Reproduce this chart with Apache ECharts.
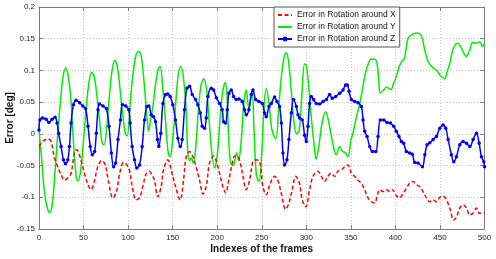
<!DOCTYPE html>
<html>
<head>
<meta charset="utf-8">
<script src="https://cdn.jsdelivr.net/npm/echarts@6/dist/echarts.min.js"></script>
<style>
html,body{margin:0;padding:0;background:#fff;}
#chart{width:496px;height:259px;}
</style>
</head>
<body>
<div id="chart"></div>
<script>
// Data: [frame index, error in deg]
const seriesNames = ['Error in Rotation around X', 'Error in Rotation around Y', 'Error in Rotation around Z'];
const xTicks = [0, 50, 100, 150, 200, 250, 300, 350, 400, 450, 500];
const yTicks = [-0.15, -0.1, -0.05, 0, 0.05, 0.1, 0.15, 0.2];

const rotX = [[0,-0.02],[4,-0.012],[10,-0.008],[13.5,-0.012],[17,-0.036],[21,-0.052],[25,-0.065],[28.6,-0.073],[32,-0.07],[36,-0.062],[40,-0.028],[42.5,-0.025],[46,-0.036],[51,-0.062],[55,-0.08],[58.6,-0.088],[62.4,-0.073],[66,-0.052],[70.7,-0.042],[74.4,-0.049],[78,-0.075],[83,-0.101],[87,-0.091],[90.6,-0.062],[95,-0.045],[98,-0.048],[101.5,-0.057],[105.3,-0.088],[109,-0.104],[112.8,-0.101],[116.5,-0.083],[120.3,-0.063],[124,-0.059],[127,-0.065],[129.6,-0.073],[133.4,-0.099],[137.1,-0.083],[139.7,-0.057],[144.6,-0.041],[148.4,-0.057],[153.2,-0.083],[158.5,-0.104],[162.2,-0.073],[165.2,-0.036],[169,-0.028],[172.7,-0.036],[176.4,-0.052],[181,-0.078],[184,-0.095],[187.7,-0.083],[191.4,-0.046],[196,-0.035],[199.5,-0.045],[202.6,-0.062],[206.4,-0.083],[209.4,-0.093],[213,-0.073],[217,-0.046],[219.5,-0.035],[223.2,-0.036],[226,-0.046],[229,-0.067],[232.6,-0.088],[236.4,-0.073],[240,-0.044],[243,-0.041],[247.6,-0.044],[251.3,-0.083],[255,-0.096],[259.6,-0.078],[264.4,-0.067],[268,-0.073],[272,-0.094],[276.8,-0.119],[280.5,-0.109],[285,-0.083],[288,-0.067],[291.8,-0.075],[295.5,-0.104],[299.5,-0.115],[303.7,-0.088],[307.5,-0.067],[313,-0.059],[317,-0.067],[320.6,-0.075],[324.3,-0.067],[328,-0.062],[331.8,-0.067],[335.6,-0.059],[339.3,-0.057],[343,-0.052],[346.8,-0.049],[350.6,-0.062],[354.3,-0.067],[358,-0.073],[361.8,-0.078],[365.5,-0.088],[369.3,-0.101],[373,-0.107],[376.8,-0.109],[379.4,-0.099],[382.4,-0.088],[386,-0.091],[390,-0.088],[393.6,-0.091],[396.6,-0.088],[401,-0.097],[404.8,-0.101],[408.6,-0.094],[412.3,-0.086],[416,-0.078],[419.8,-0.075],[423.6,-0.08],[427.3,-0.083],[431,-0.091],[434.8,-0.101],[438.6,-0.107],[442.3,-0.104],[446,-0.107],[449.8,-0.1],[453.5,-0.098],[457.3,-0.104],[461,-0.117],[465.5,-0.136],[468.5,-0.131],[472.3,-0.117],[476,-0.112],[479.8,-0.117],[483.5,-0.128],[487.2,-0.125],[491,-0.117],[494,-0.125],[497.7,-0.125],[500,-0.124]];

const rotY = [[0,0.005],[3,-0.04],[6,-0.09],[9,-0.115],[12,-0.124],[15,-0.11],[18,-0.06],[21,0.0],[24,0.05],[27,0.09],[30,0.104],[33,0.09],[36,0.05],[39,-0.02],[42,-0.07],[44,-0.074],[47,-0.055],[50,-0.01],[53,0.04],[56,0.08],[59,0.097],[62,0.09],[65,0.06],[68,0.02],[71,-0.015],[73,-0.017],[76,0.01],[79,0.06],[82,0.1],[85,0.116],[88,0.105],[91,0.07],[94,0.03],[97,0.0],[99,-0.003],[103,0.06],[106,0.1],[109,0.125],[112,0.13],[115,0.12],[118,0.08],[121,0.03],[123,0.004],[125,0.02],[128,0.045],[131,0.08],[134,0.103],[136,0.106],[139,0.07],[142,0.02],[145,-0.03],[147,-0.036],[150,-0.01],[153,0.04],[156,0.09],[159,0.106],[162,0.09],[165,0.04],[167,-0.03],[169,-0.042],[171,-0.038],[173,-0.046],[176,-0.02],[179,0.04],[182,0.078],[185,0.087],[188,0.07],[191,0.02],[194,-0.03],[197,-0.054],[200,-0.035],[203,0.02],[206,0.065],[209,0.081],[211,0.06],[213,-0.01],[215,-0.045],[218,-0.05],[220,-0.04],[222,-0.03],[224,-0.042],[227,-0.01],[230,0.05],[232.6,0.069],[235.5,0.04],[239,0.067],[241.5,0.0],[244,-0.065],[247,-0.075],[250,-0.03],[252.5,0.04],[255,0.072],[258,0.05],[261,0.01],[264,-0.005],[266,-0.007],[269,0.04],[272,0.09],[275,0.12],[277.6,0.128],[280,0.115],[283,0.07],[286,0.02],[289,0.0],[292,0.005],[295,0.06],[298,0.11],[300,0.108],[303,0.07],[306,0.02],[309,-0.02],[311,-0.04],[314,-0.02],[318,0.02],[321.7,0.035],[325,0.02],[329,-0.01],[333.7,-0.033],[337.5,-0.02],[341,-0.028],[344,-0.03],[346.8,-0.036],[350,-0.01],[352.4,0.001],[356,0.025],[360,0.048],[363,0.07],[365.5,0.09],[369,0.108],[373,0.118],[378,0.117],[381,0.09],[383,0.064],[387,0.069],[390,0.074],[395,0.07],[398,0.08],[401,0.09],[404,0.105],[407,0.114],[410,0.118],[414,0.15],[418,0.156],[423.6,0.159],[429,0.155],[433,0.132],[436.7,0.114],[442.3,0.104],[446,0.101],[449.8,0.093],[452,0.09],[455.4,0.087],[458,0.098],[461,0.111],[464,0.13],[466.7,0.14],[470.4,0.143],[473,0.138],[476,0.13],[479,0.122],[483.5,0.132],[486.5,0.144],[491,0.143],[494.7,0.145],[497.7,0.138],[500,0.142]];

const rotZ = [[0,0.006],[1,0.022],[4,0.025],[8,0.023],[11,0.018],[14.7,0.023],[18,0.026],[20.3,0.017],[22,0.001],[24.8,-0.02],[27.4,-0.041],[29.7,-0.047],[32.3,-0.041],[34.2,-0.02],[36,0.017],[38.7,0.046],[41.7,0.053],[45.5,0.049],[49.2,0.044],[52.3,0.04],[55,0.012],[57.5,-0.02],[59.8,-0.033],[62.4,-0.028],[64.3,0.001],[66.2,0.038],[68,0.047],[71.8,0.044],[75.6,0.04],[78.6,0.012],[81.2,-0.03],[83.8,-0.052],[86,-0.046],[88.7,-0.009],[91.4,0.022],[93.6,0.046],[97.4,0.044],[100.8,0.038],[102.3,0.017],[104.5,-0.02],[107.2,-0.041],[109.8,-0.054],[112.8,-0.049],[115.8,-0.02],[118.4,0.022],[121,0.043],[123.3,0.044],[125.9,0.03],[128.5,0.027],[130.8,0.019],[133,-0.009],[134.5,-0.02],[136.7,0.001],[139,0.048],[142,0.062],[144.6,0.063],[147.2,0.059],[150.2,0.046],[153.2,0.022],[155.9,-0.007],[158.5,-0.02],[160.7,-0.009],[163.3,0.038],[166,0.072],[169,0.075],[172,0.062],[175.7,0.054],[178.3,0.046],[181,0.033],[183.2,0.012],[185.8,0.009],[187.7,0.025],[189.6,0.059],[193.3,0.072],[196,0.069],[199,0.057],[202.6,0.048],[205.6,0.038],[207.1,0.019],[209.4,0.017],[211.3,0.038],[213.1,0.064],[215.8,0.069],[218.4,0.059],[221.4,0.054],[224.4,0.055],[228.1,0.051],[230.7,0.038],[232.6,0.03],[235.6,0.038],[238.2,0.062],[240.1,0.069],[243.1,0.054],[246.8,0.051],[250.6,0.048],[253.2,0.033],[255.1,0.027],[258.1,0.043],[260.7,0.048],[264.4,0.058],[267,0.051],[270,0.043],[272,0.017],[273.8,-0.03],[275.7,-0.049],[278.3,-0.041],[280.5,-0.009],[283.2,0.033],[285.8,0.054],[288.8,0.043],[290.7,0.03],[292.5,0.025],[295.5,0.022],[298.1,-0.002],[300,-0.012],[301.9,0.012],[303.7,0.048],[305.6,0.059],[308.2,0.054],[311.2,0.048],[315,0.047],[318.7,0.051],[322.5,0.054],[326.2,0.062],[329.2,0.056],[333,0.059],[337.5,0.064],[341.2,0.069],[344.2,0.077],[346,0.077],[348,0.067],[350.6,0.054],[354.3,0.051],[358,0.049],[361.8,0.043],[363.7,0.022],[365.5,0.004],[368.2,-0.004],[371.2,-0.02],[374.2,-0.028],[378,-0.028],[380.5,-0.004],[383.1,0.022],[386.9,0.022],[390.6,0.018],[394.4,0.017],[398.1,0.012],[401,0.004],[404,-0.004],[406.7,-0.012],[409.3,-0.015],[412.3,-0.028],[416,-0.03],[419,-0.032],[421.7,-0.045],[425.4,-0.046],[430.3,-0.052],[433,-0.033],[435.6,-0.017],[438.6,-0.014],[442.3,-0.009],[446,-0.004],[449.8,0.009],[453.5,0.014],[456.5,0.009],[459.2,-0.009],[462.9,-0.033],[465.5,-0.044],[468.5,-0.036],[472.3,-0.017],[476,-0.012],[479.8,-0.015],[483.5,-0.02],[487.2,-0.009],[491,0.001],[494,-0.015],[496.6,-0.036],[499.2,-0.044],[500,-0.052]];

const FONT = '"Liberation Sans", Arial, Helvetica, sans-serif';
const AXIS_COLOR = '#7a7a7a';

const chart = echarts.init(document.getElementById('chart'), null, {renderer: 'canvas'});

function fmt(v) { return String(parseFloat(v.toFixed(2))); }

const baseX = {
  type: 'value', min: xTicks[0], max: xTicks[xTicks.length - 1], interval: 50,
  axisLine: {show: true, onZero: false, lineStyle: {color: AXIS_COLOR, width: 1}},
  axisTick: {show: true, inside: true, length: 4, lineStyle: {color: AXIS_COLOR}},
};
const baseY = {
  type: 'value', min: yTicks[0], max: yTicks[yTicks.length - 1], interval: 0.05,
  axisLine: {show: true, onZero: false, lineStyle: {color: AXIS_COLOR, width: 1}},
  axisTick: {show: true, inside: true, length: 4, lineStyle: {color: AXIS_COLOR}},
};

chart.setOption({
  animation: false,
  backgroundColor: '#fff',
  textStyle: {fontFamily: FONT},
  grid: {left: 39, right: 11.5, top: 7, bottom: 30, containLabel: false, outerBoundsMode: 'none'},
  legend: {
    orient: 'vertical', left: 274, top: 7,
    padding: [3, 4, 3, 3], itemGap: 2, itemWidth: 14, itemHeight: 6,
    backgroundColor: '#fff', borderColor: '#555', borderWidth: 1, borderRadius: 0,
    textStyle: {fontSize: 8.5, color: '#111', fontFamily: FONT, lineHeight: 10},
    data: [
      {name: seriesNames[0], itemStyle: {opacity: 0}},
      {name: seriesNames[1], itemStyle: {opacity: 0}},
      {name: seriesNames[2]}
    ]
  },
  xAxis: [
    Object.assign({}, baseX, {
      position: 'bottom',
      name: 'Indexes of the frames', nameLocation: 'middle', nameGap: 15, nameMoveOverlap: false,
      nameTextStyle: {fontSize: 10, fontWeight: 'bold', color: '#111', fontFamily: FONT},
      axisLabel: {fontSize: 8, color: '#222', margin: 5, fontFamily: FONT},
      splitLine: {show: true, lineStyle: {color: '#c4c4c4', type: [1, 2], width: 1}}
    }),
    Object.assign({}, baseX, {
      position: 'top', axisLabel: {show: false}, splitLine: {show: false}
    })
  ],
  yAxis: [
    Object.assign({}, baseY, {
      position: 'left',
      name: 'Error [deg]', nameLocation: 'middle', nameGap: 24, nameMoveOverlap: false,
      nameTextStyle: {fontSize: 10, fontWeight: 'bold', color: '#111', fontFamily: FONT},
      axisLabel: {fontSize: 8, color: '#222', margin: 4, formatter: fmt, fontFamily: FONT},
      splitLine: {show: true, lineStyle: {color: '#c4c4c4', type: [1, 2], width: 1}}
    }),
    Object.assign({}, baseY, {
      position: 'right', axisLabel: {show: false}, splitLine: {show: false}
    })
  ],
  series: [
    {
      name: seriesNames[0], type: 'line', data: rotX, xAxisIndex: 0, yAxisIndex: 0,
      smooth: 0.35, showSymbol: false, symbol: 'none',
      lineStyle: {color: '#ff0000', width: 1.5, type: [4, 2.5]},
      itemStyle: {color: '#ff0000'}, z: 3
    },
    {
      name: seriesNames[1], type: 'line', data: rotY, xAxisIndex: 0, yAxisIndex: 0,
      smooth: 0.35, showSymbol: false, symbol: 'none',
      lineStyle: {color: '#00ee00', width: 1.5},
      itemStyle: {color: '#00ee00'}, z: 2
    },
    {
      name: seriesNames[2], type: 'line', data: rotZ, xAxisIndex: 0, yAxisIndex: 0,
      smooth: 0.35, symbol: 'circle', symbolSize: 3.5, showSymbol: true,
      lineStyle: {color: '#0000ff', width: 1.5},
      itemStyle: {color: '#0000ff'}, z: 4
    }
  ]
});
</script>
</body>
</html>
